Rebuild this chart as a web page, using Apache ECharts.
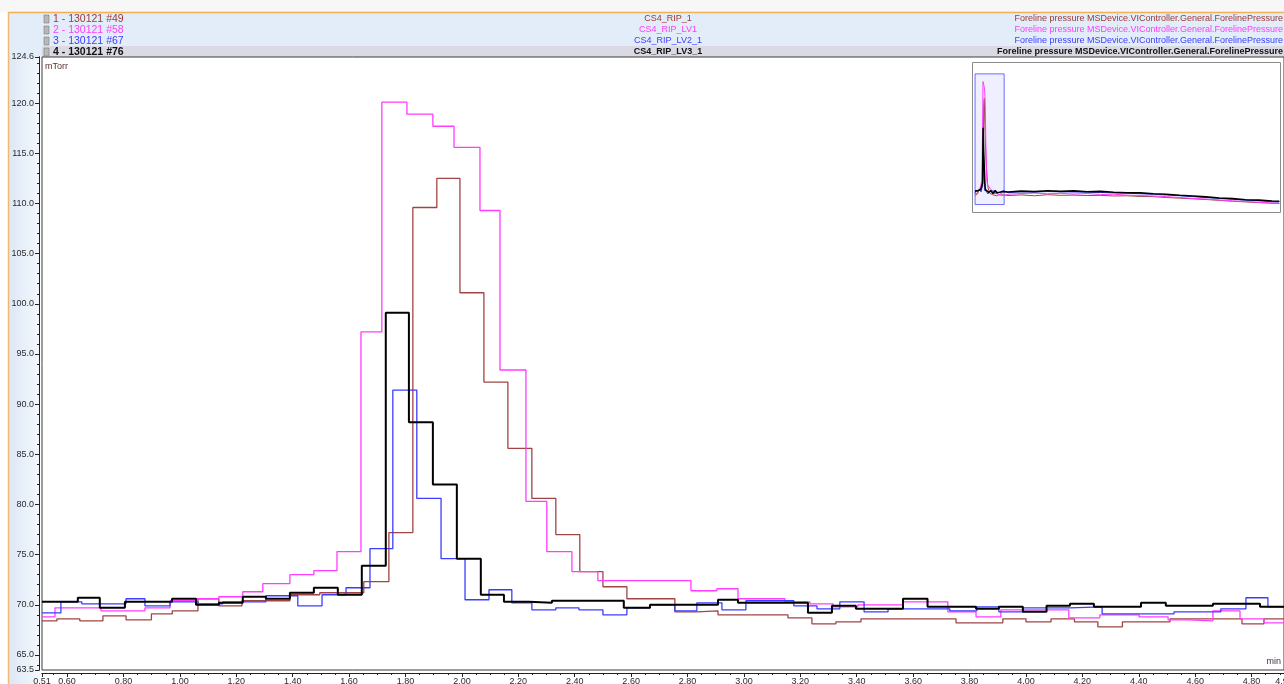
<!DOCTYPE html>
<html><head><meta charset="utf-8">
<script src="https://cdn.jsdelivr.net/npm/echarts@6/dist/echarts.min.js"></script>
<style>html,body{margin:0;padding:0;background:#fff;overflow:hidden}#c{width:1284px;height:684px}</style>
</head><body><div id="c"></div>
<script>
// ---------- data ----------
const runLabels = ['1 - 130121 #49', '2 - 130121 #58', '3 - 130121 #67', '4 - 130121 #76'];
const sampleNames = ['CS4_RIP_1', 'CS4_RIP_LV1', 'CS4_RIP_LV2_1', 'CS4_RIP_LV3_1'];
const traceName = 'Foreline pressure MSDevice.VIController.General.ForelinePressure';
const seriesColors = ['#A04444', '#FF3CFF', '#3C3CFF', '#000000'];

const s1Times = [0.511,0.564,0.645,0.727,0.809,0.899,0.973,1.064,1.138,1.220,1.390,1.496,1.652,1.741,1.826,1.911,1.993,2.078,2.163,2.248,2.333,2.418,2.500,2.585,2.755,2.833,2.908,3.156,3.241,3.326,3.415,3.752,3.918,4.000,4.089,4.172,4.255,4.342,4.511,4.766,4.844];
const s1Values = [68.4,68.6,68.4,68.9,68.5,69.1,69.4,70.6,69.9,70.4,71.0,71.2,72.3,77.2,109.6,112.5,101.1,92.2,85.6,80.6,77.0,73.3,71.8,70.6,69.3,69.4,69.0,68.7,68.1,68.3,68.6,68.2,68.6,68.3,68.6,68.3,67.8,68.3,68.6,68.1,68.6];

const s2Times = [0.511,0.557,0.720,0.876,0.965,1.057,1.138,1.223,1.294,1.390,1.475,1.557,1.642,1.716,1.805,1.897,1.972,2.064,2.135,2.227,2.301,2.390,2.482,2.812,2.904,2.979,3.145,3.234,3.316,3.404,3.564,3.723,3.823,3.911,4.152,4.262,4.401,4.504,4.574,4.663,4.759,4.844];
const s2Values = [68.8,69.7,69.4,69.7,70.4,70.6,70.8,71.3,72.1,73.0,73.4,75.3,97.2,120.1,118.9,117.7,115.6,109.3,93.4,80.3,75.3,73.3,72.4,71.4,71.6,70.6,70.3,70.1,69.8,70.0,70.3,69.3,68.8,69.5,68.7,69.0,68.8,68.5,68.4,69.4,68.6,68.2];

const s3Times = [0.511,0.578,0.652,0.809,0.876,0.965,1.064,1.152,1.305,1.418,1.504,1.589,1.674,1.755,1.840,1.926,2.011,2.096,2.177,2.248,2.333,2.415,2.500,2.585,2.667,2.755,2.833,2.922,3.007,3.177,3.259,3.340,3.426,3.511,3.730,3.826,3.904,3.989,4.156,4.270,4.525,4.691,4.780,4.858];
const s3Values = [69.2,70.3,70.1,70.6,69.9,70.3,70.1,70.3,70.9,69.9,71.0,71.7,75.6,91.4,80.6,74.6,70.5,71.5,70.2,69.5,69.7,69.5,69.0,69.7,70.0,69.4,70.2,69.5,70.4,69.9,69.6,70.3,69.3,69.6,69.4,69.8,69.3,69.7,69.8,69.1,69.3,69.6,70.7,69.8];

const s4Times = [0.511,0.638,0.716,0.805,0.972,1.057,1.138,1.223,1.305,1.390,1.475,1.560,1.645,1.730,1.812,1.897,1.982,2.067,2.149,2.238,2.319,2.574,2.667,2.908,2.979,3.227,3.312,3.397,3.564,3.651,3.823,3.904,3.989,4.073,4.156,4.241,4.408,4.496,4.663,4.830];
const s4Values = [70.3,70.7,69.7,70.3,70.6,70.0,70.2,70.8,70.6,71.2,71.7,71.0,73.9,99.1,88.2,82.0,74.6,71.0,70.3,70.2,70.4,69.7,70.0,70.5,70.2,69.2,69.9,69.6,70.6,69.8,69.6,69.8,69.3,69.9,70.1,69.8,70.2,69.9,70.1,69.8];

// overview (inset) tail beyond the zoom window
const tailTimes = [5.5,7.5,9.5,11.5,13.5,15.5,17.5,19.5,21.5,23.5,25.5,27.5,29.5,31.5,33.5,35.5,37.5,39.5,41.5,43.5,45.5,46.6];
const s1Tail = [68.3,68.6,68.2,68.7,68.4,68.5,68.3,68.4,68.1,68.2,67.9,67.8,67.4,67.1,66.8,66.5,66.1,65.7,65.4,65.1,64.8,64.7];
const s2Tail = [68.9,69.2,69.4,69.1,69.3,69.0,69.2,68.8,68.9,68.5,68.3,68.1,67.8,67.4,67.0,66.7,66.3,65.9,65.6,65.2,64.9,64.8];
const s3Tail = [69.6,70.0,69.9,70.1,70.0,69.9,69.8,69.7,69.5,69.3,69.1,68.9,68.5,68.2,67.8,67.4,67.0,66.6,66.2,65.9,65.5,65.4];
const s4Tail = [69.9,70.3,70.1,70.5,70.2,70.4,70.0,70.2,69.8,69.6,69.5,69.1,68.9,68.4,68.1,67.7,67.2,66.9,66.4,66.2,65.8,65.7];

const xMin = 0.511, xMax = 4.915;
const yMin = 63.5, yMax = 124.6;
const xLabelValues = [0.511,0.60,0.80,1.00,1.20,1.40,1.60,1.80,2.00,2.20,2.40,2.60,2.80,3.00,3.20,3.40,3.60,3.80,4.00,4.20,4.40,4.60,4.80,4.915];
const yLabelValues = [63.5,65,70,75,80,85,90,95,100,105,110,115,120,124.6];

// ---------- build ----------
const times = [s1Times, s2Times, s3Times, s4Times];
const values = [s1Values, s2Values, s3Values, s4Values];
const tails = [s1Tail, s2Tail, s3Tail, s4Tail];

function zip(t, v) { const d = t.map((x, i) => [x, v[i]]); d.push([xMax, v[v.length - 1]]); return d; }

const xMinor = []; for (let i = 11; i <= 98; i++) xMinor.push(+(i * 0.05).toFixed(2));
const yMinor = []; for (let i = 64; i <= 124; i++) yMinor.push(i);

const GL = 42, GT = 57, GB = 14;

const series = [];
for (let k = 0; k < 4; k++) {
  series.push({
    type: 'line', xAxisIndex: 1, yAxisIndex: 1, step: 'end', showSymbol: false, symbol: 'none',
    data: zip(times[k], values[k]), z: 3 + k,
    lineStyle: { color: seriesColors[k], width: k === 3 ? 2 : 1.3 },
    itemStyle: { color: seriesColors[k] }, animation: false, silent: true
  });
}
for (let k = 0; k < 4; k++) {
  const d = zip(times[k], values[k]);
  tailTimes.forEach((t, i) => d.push([t, tails[k][i]]));
  series.push({
    type: 'line', xAxisIndex: 2, yAxisIndex: 2, showSymbol: false, symbol: 'none',
    data: d, z: 3 + k,
    lineStyle: { color: seriesColors[k], width: k === 3 ? 1.6 : 1 },
    animation: false, silent: true,
    markArea: k === 0 ? {
      silent: true,
      itemStyle: { color: 'rgba(225,225,255,0.55)', borderColor: '#6A6AFF', borderWidth: 1 },
      data: [[{ xAxis: xMin, yAxis: 64.2 }, { xAxis: xMax, yAxis: 123.6 }]]
    } : undefined
  });
}

const font = '9px "Liberation Sans", Arial, sans-serif';
const boldFont = 'bold 9px "Liberation Sans", Arial, sans-serif';
const leftFont = '10.5px "Liberation Sans", Arial, sans-serif';
const leftBoldFont = 'bold 10.5px "Liberation Sans", Arial, sans-serif';
const graphics = [
  { type: 'rect', z: -10, shape: { x: 0, y: 0, width: 1284, height: 12 }, style: { fill: '#F7F7F7' } },
  { type: 'rect', z: -9, shape: { x: 9, y: 13, width: 1275, height: 44 }, style: { fill: '#E3EDF9' } },
  { type: 'rect', z: -9, shape: { x: 9, y: 57, width: 31, height: 627 },
    style: { fill: new echarts.graphic.LinearGradient(0, 0, 1, 0, [{ offset: 0, color: '#DDE8F6' }, { offset: 1, color: '#F4F8FD' }]) } },
  { type: 'rect', z: -8, shape: { x: 42, y: 46, width: 1242, height: 11 }, style: { fill: '#D9DAE3' } },
  { type: 'line', z: -7, shape: { x1: 8, y1: 12.5, x2: 1284, y2: 12.5 }, style: { stroke: '#F0B055', lineWidth: 1.5 } },
  { type: 'line', z: -7, shape: { x1: 8.5, y1: 12, x2: 8.5, y2: 684 }, style: { stroke: '#F0B870', lineWidth: 1.5 } },
  { type: 'rect', z: 1, shape: { x: 972.5, y: 62.5, width: 308, height: 150 }, style: { fill: '#FFFFFF', stroke: '#8A8A8A', lineWidth: 1 } },
  { type: 'text', z: 10, style: { text: 'mTorr', x: 45, y: 67, fill: '#5A3030', font: font, textVerticalAlign: 'middle' } },
  { type: 'text', z: 10, style: { text: 'min', x: 1281, y: 662, fill: '#4A2A4A', font: font, textAlign: 'right', textVerticalAlign: 'middle' } }
];
const rowY = [19, 30, 41, 52];
for (let k = 0; k < 4; k++) {
  const c = k === 3 ? '#111111' : k === 0 ? '#9A3838' : seriesColors[k];
  const f = k === 3 ? boldFont : font;
  const lf = k === 3 ? leftBoldFont : leftFont;
  graphics.push({ type: 'rect', z: 5, shape: { x: 44, y: rowY[k] - 4, width: 5, height: 8 }, style: { fill: '#B8B8B8', stroke: '#7A7A7A', lineWidth: 0.6 } });
  graphics.push({ type: 'text', z: 10, style: { text: runLabels[k], x: 53, y: rowY[k], fill: c, font: lf, textVerticalAlign: 'middle' } });
  graphics.push({ type: 'text', z: 10, style: { text: sampleNames[k], x: 668, y: rowY[k], fill: c, font: f, textAlign: 'center', textVerticalAlign: 'middle' } });
  graphics.push({ type: 'text', z: 10, style: { text: traceName, x: 1283, y: rowY[k], fill: c, font: f, textAlign: 'right', textVerticalAlign: 'middle' } });
}

const axisLblStyle = { color: '#2A2A2A', fontSize: 9, fontFamily: '"Liberation Sans", Arial, sans-serif' };

const option = {
  animation: false,
  backgroundColor: '#FFFFFF',
  grid: [
    { left: GL, top: GT, right: 0, bottom: GB, show: true, borderColor: '#3A3A3A', borderWidth: 1, backgroundColor: '#FFFFFF', containLabel: false, outerBoundsMode: 'none' },
    { left: 973, top: 73, width: 307, height: 132, show: false, containLabel: false, outerBoundsMode: 'none' }
  ],
  xAxis: [
    { type: 'value', gridIndex: 0, min: xMin, max: xMax, offset: 3, position: 'bottom',
      axisLine: { show: true, lineStyle: { color: '#222', width: 1 } },
      axisTick: { show: true, length: 2, customValues: xMinor, lineStyle: { color: '#222' } },
      axisLabel: { show: false }, splitLine: { show: false } },
    { type: 'value', gridIndex: 0, min: xMin, max: xMax, offset: 3, position: 'bottom',
      axisLine: { show: true, lineStyle: { color: '#222', width: 1 } },
      axisTick: { show: true, length: 4, customValues: xLabelValues, lineStyle: { color: '#222' } },
      axisLabel: Object.assign({ show: true, margin: 4, customValues: xLabelValues, formatter: v => v.toFixed(2), showMinLabel: true, showMaxLabel: true, hideOverlap: false }, axisLblStyle),
      splitLine: { show: false } },
    { type: 'value', gridIndex: 1, min: 0.2, max: 46.7, show: false }
  ],
  yAxis: [
    { type: 'value', gridIndex: 0, min: yMin, max: yMax, offset: 3, position: 'left',
      axisLine: { show: true, lineStyle: { color: '#222', width: 1 } },
      axisTick: { show: true, length: 2, customValues: yMinor, lineStyle: { color: '#222' } },
      axisLabel: { show: false }, splitLine: { show: false } },
    { type: 'value', gridIndex: 0, min: yMin, max: yMax, offset: 3, position: 'left',
      axisLine: { show: true, lineStyle: { color: '#222', width: 1 } },
      axisTick: { show: true, length: 4, customValues: yLabelValues, lineStyle: { color: '#222' } },
      axisLabel: Object.assign({ show: true, margin: 5, customValues: yLabelValues, formatter: v => v.toFixed(1), showMinLabel: true, showMaxLabel: true, hideOverlap: false }, axisLblStyle),
      splitLine: { show: false } },
    { type: 'value', gridIndex: 1, min: 64, max: 124, show: false }
  ],
  graphic: graphics,
  series: series
};

const chart = echarts.init(document.getElementById('c'), null, { renderer: 'canvas' });
chart.setOption(option);
</script>
</body></html>
